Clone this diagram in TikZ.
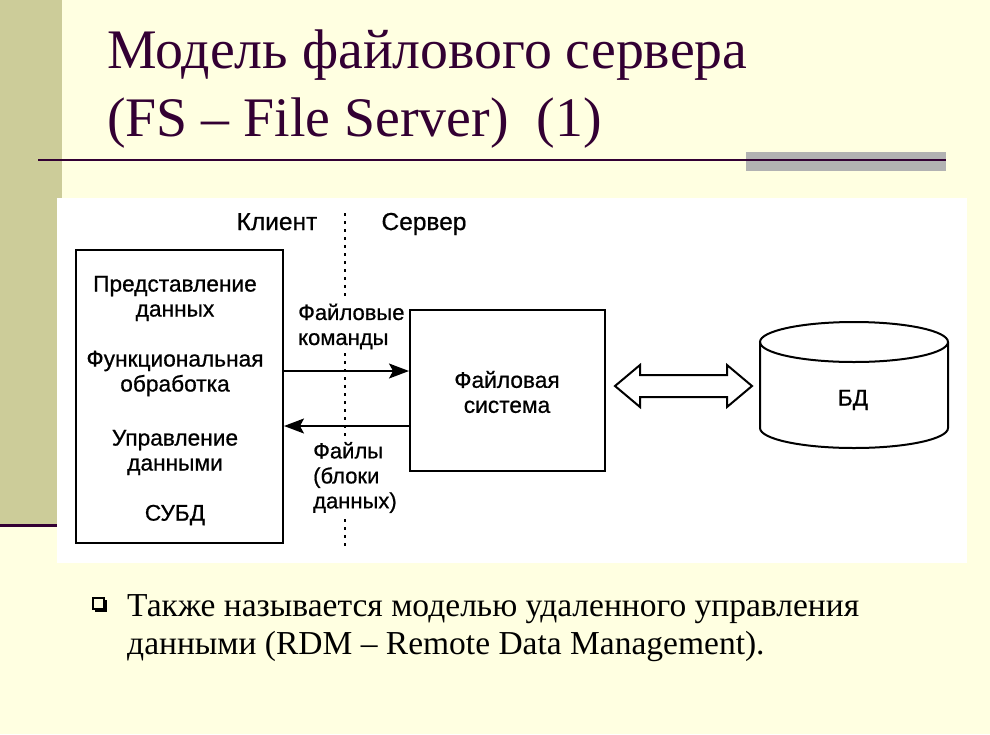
\documentclass[tikz,border=0pt]{standalone}
\usepackage{fontspec}
\setmainfont{Liberation Serif}
\setsansfont{Liberation Sans}
\newfontfamily\scanfont[FakeBold=0.7]{Liberation Sans}
\usetikzlibrary{arrows.meta, positioning}
\definecolor{slidebg}{HTML}{FFFFE1}
\definecolor{barcol}{HTML}{CCCC99}
\definecolor{plum}{HTML}{330033}
\definecolor{rulegray}{HTML}{B2B2B2}
\tikzstyle{box} = [rectangle, draw=black, line width=2pt, inner sep=0]
\tikzstyle{lbl} = [font=\scanfont\fontsize{22.7}{25}\selectfont, align=center, inner sep=0]
\tikzstyle{headlbl} = [lbl, font=\scanfont\fontsize{24.5}{28}\selectfont, anchor=base]
\tikzstyle{sidelbl} = [lbl, font=\scanfont\fontsize{22}{25}\selectfont, align=left, anchor=west]
\tikzstyle{sep} = [line width=2.5pt, dash pattern=on 3pt off 5pt]
\tikzstyle{titletxt} = [plum, font=\fontsize{55.8}{68}\selectfont, anchor=base west, inner sep=0]
\tikzstyle{bullettxt} = [font=\fontsize{33.5}{38}\selectfont, anchor=base west, inner sep=0]
\tikzstyle{arrow} = [line width=1.5pt,-{Stealth[length=20pt,width=15pt,inset=4pt]}]

\begin{document}
\begin{tikzpicture}[x=1pt,y=-1pt]
\useasboundingbox (0,0) rectangle (990,734);
% slide
\fill[slidebg] (0,0) rectangle (990,734);
\fill[barcol] (0,0) rectangle (62,525);
\draw[plum, line width=3pt] (0,525) -- (62,525);
\fill[rulegray] (746,152) rectangle (946,171);
\draw[plum, line width=2.5pt] (38,160) -- (946,160);
\node[titletxt] (title1) at (107,68) {Модель файлового сервера};
\node[titletxt] (title2) at (107,136) {(FS -- File Server)\ \ (1)};

% scanned figure
\fill[white] (57,198) rectangle (967,563);
\node[headlbl] (client lbl) at (277,230) {Клиент};
\node[headlbl] (server lbl) at (424,230) {Сервер};
\draw[sep] (345,213) -- (345,299);
\draw[sep] (345,353) -- (345,437);
\draw[sep] (345,519) -- (345,548);

\node[box, minimum width=207, minimum height=293] (client) at (179.5,396.5) {};
\node[lbl] (pres) at (175,298.5) {Представление\\данных};
\node[lbl] (func) at (175,373.5) {Функциональная\\обработка};
\node[lbl] (dm) at (175,452.5) {Управление\\данными};
\node[lbl] (dbms) at (175,515) {СУБД};

\node[box, minimum width=195, minimum height=161] (fs) at (507.5,390.5) {};
\node[lbl] (fsname) at (507,392) {Файловая\\система};

\coordinate (cmd) at (345,371);
\coordinate (dat) at (345,426);
\draw[arrow] (cmd -| client.east) -- (cmd -| fs.west);
\draw[arrow] (dat -| fs.west) -- (dat -| client.east);
\node[sidelbl] (cmdlbl) at (298,326.5) {Файловые\\команды};
\node[sidelbl] (datlbl) at (313,477.5) {Файлы\\(блоки\\данных)};

% double arrow fs <-> db
\coordinate (dl) at (615,386);
\draw[line width=2pt] (dl) -- ++(25,-21) -- ++(0,10) -- ++(87,0) -- ++(0,-10)
  -- ++(25,21) -- ++(-25,21) -- ++(0,-10) -- ++(-87,0) -- ++(0,10) -- cycle;

% database
\draw[line width=2pt] (760,342) -- (760,428)
  arc[start angle=180, end angle=0, x radius=94, y radius=20] -- (948,342);
\draw[line width=2pt] (854,342) ellipse[x radius=94, y radius=20];
\node[lbl] (db) at (853,400) {БД};

% bullet
\draw[line width=1.2pt, fill=slidebg] (93,598) rectangle (104,609);
\fill (95,609) rectangle (106,612);
\fill (104,600) rectangle (107,612);
\node[bullettxt] (note1) at (127,616) {Также называется моделью удаленного управления};
\node[bullettxt] (note2) at (127,654) {данными (RDM -- Remote Data Management).};
\end{tikzpicture}
\end{document}
